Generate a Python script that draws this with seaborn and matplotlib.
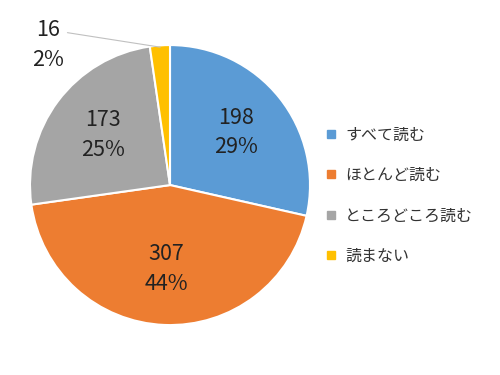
import matplotlib
matplotlib.use("Agg")
import matplotlib.pyplot as plt
from matplotlib.lines import Line2D
import seaborn as sns

# data
categories = ["すべて読む", "ほとんど読む", "ところどころ読む", "読まない"]
counts = [198, 307, 173, 16]
colors = ["#5B9BD5", "#ED7D31", "#A5A5A5", "#FFC000"]

sns.set_theme(style="white")
plt.rcParams['font.family'] = ['Noto Sans CJK JP', 'DejaVu Sans']

total = sum(counts)

fig = plt.figure(figsize=(5, 3.75), dpi=100)
ax = fig.add_axes([0.06, 0.133, 0.56, 0.747])


def fmt(pct):
    n = round(pct * total / 100)
    if n < 30:
        return ""
    return f"{n}\n{pct:.0f}%"


wedges, texts, autotexts = ax.pie(
    counts, colors=colors, startangle=90, counterclock=False,
    autopct=fmt, pctdistance=0.6,
    wedgeprops=dict(edgecolor="white", linewidth=1.5),
    textprops=dict(fontsize=15.5, color="#222222", linespacing=1.45))
for t in autotexts:
    t.set_ha("center")
    t.set_va("center")

# small slice label outside
small = counts[-1]
ax.annotate(f"{small}\n{small / total * 100:.0f}%",
            xy=(-0.07, 0.985), xytext=(-0.87, 1.0),
            fontsize=15.5, color="#222222", ha="center", va="center",
            linespacing=1.45, annotation_clip=False,
            arrowprops=dict(arrowstyle="-", color="#C0C0C0", lw=0.8,
                            shrinkA=0, shrinkB=0,
                            relpos=(1.0, 0.75)))

ax.set_xlim(-1, 1)
ax.set_ylim(-1, 1)

handles = [Line2D([0], [0], marker="s", linestyle="", markersize=6,
                  markerfacecolor=c, markeredgecolor=c) for c in colors]
fig.legend(handles, categories, loc="upper left",
           bbox_to_anchor=(0.62, 0.70), frameon=False,
           fontsize=11.5, labelspacing=1.45, handlelength=0.8,
           handletextpad=0.5, labelcolor="#333333")

fig.savefig("out.png", dpi=100, facecolor="white")
